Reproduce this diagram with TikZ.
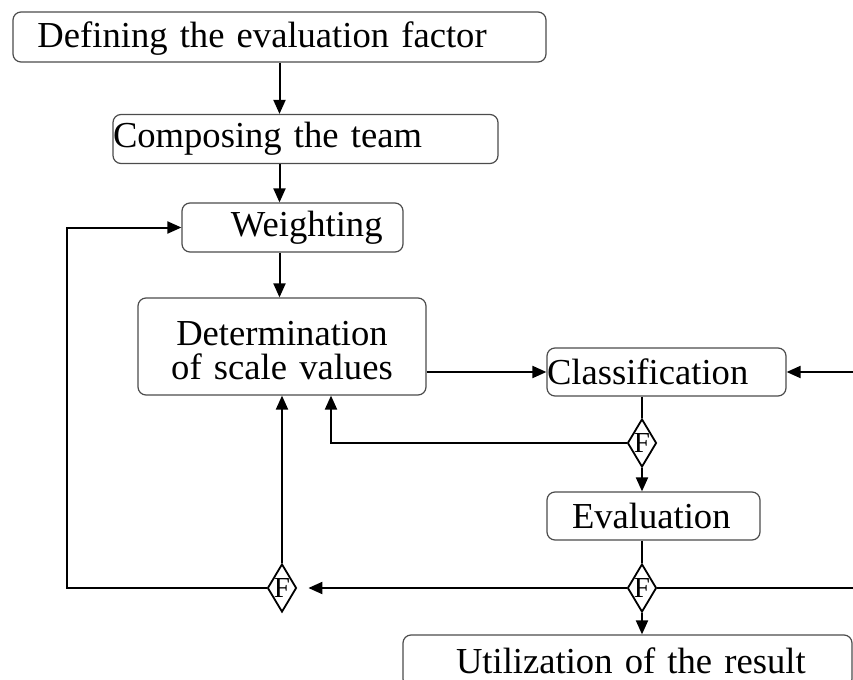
\documentclass[tikz,border=0pt]{standalone}
\usepackage{fontspec}
\setmainfont{Liberation Serif}
\usetikzlibrary{positioning, arrows.meta, calc, shapes.geometric}

\begin{document}
\begin{tikzpicture}[
  x=0.5pt, y=-0.5pt,
  stepbox/.style={draw=black!70, line width=0.6pt, rounded corners=4pt,
                  inner xsep=0pt, inner ysep=0pt, align=left,
                  font=\fontsize{18.3pt}{17pt}\selectfont},
  test/.style={diamond, draw, line width=0.9pt, inner sep=0pt, shape aspect=0.6,
               minimum width=14.5pt, minimum height=24pt,
               font=\fontsize{14.5pt}{14.5pt}\selectfont},
  arr/.style={-{Triangle[length=7pt, width=6pt]}, line width=1pt},
  ln/.style={line width=1pt},
]
\useasboundingbox (0,0) rectangle (853,680);

% Steps
\node[stepbox, text width=266.5pt, minimum height=25pt, text depth=2pt] (m1) at (279.5,37)
  {\hspace*{12.25pt}Defining the evaluation factor};
\node[stepbox, text width=192.5pt, minimum height=24.5pt] (m2) at (305.5,139)
  {Composing the team};
\node[stepbox, text width=110.5pt, minimum height=24.5pt] (m3) at (292.5,227.5)
  {\hspace*{24.5pt}Weighting};
\node[stepbox, text width=144pt, minimum height=48.5pt, align=center] (m4) at (282,346.5)
  {\rule{0pt}{16pt}Determination\\of scale values};
\node[stepbox, text width=119.5pt, minimum height=24pt] (m5) at (666.5,372)
  {Classification};
\node[stepbox, text width=106.5pt, minimum height=24pt] (m6) at (653.5,516)
  {\hspace*{12.5pt}Evaluation};
\node[stepbox, text width=224.5pt, minimum height=26pt] (m7) at (627.5,661)
  {\hspace*{26.5pt}Utilization of the result};

% Feedback tests
\node[test] (d1) at (642,443) {F};
\node[test] (d2) at (282,588) {F};
\node[test] (d3) at (642,588) {F};

\coordinate (loopL) at (67,588);
\coordinate (loopR) at (870,588);

% === Arrows (main flow) ===
\draw[arr] (m1.south) -- (m1.south |- m2.north);
\draw[arr] (m1.south |- m2.south) -- (m1.south |- m3.north);
\draw[arr] (m1.south |- m3.south) -- (m1.south |- m4.north);
\draw[arr] (m4.east |- m5.west) -- (m5.west);
\draw[ln] (d1.north |- m5.south) -- (d1.north);
\draw[arr] (d1.south) -- (d1.south |- m6.north);
\draw[ln] (d3.north |- m6.south) -- (d3.north);
\draw[arr] (d3.south) -- (d3.south |- m7.north);

% === Feedback loops ===
\draw[arr] (d1.west) -| ([xshift=24.5pt]m4.south);
\draw[arr, shorten >=5.5pt] (d3.west) -- (d2.east);
\draw[arr] (d2.north) -- (d2.north |- m4.south);
\draw[arr] (d2.west) -- (loopL) |- (m3.west);
\draw[arr] (d3.east) -- (loopR) |- (m5.east);

\end{tikzpicture}
\end{document}
